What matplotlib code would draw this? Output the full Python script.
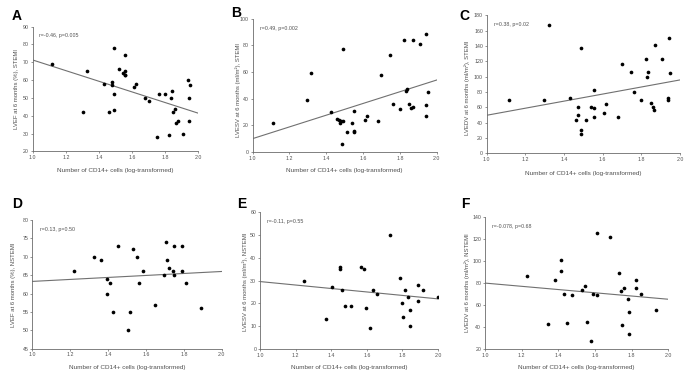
import matplotlib
matplotlib.use("Agg")
import matplotlib.pyplot as plt
import numpy as np

plt.rcParams['font.family'] = ['Liberation Sans', 'DejaVu Sans']

# ---------------- data ----------------
# Panel A: LVEF, STEMI
A_x = [1.119, 1.306, 1.326, 1.433, 1.463, 1.481, 1.481, 1.493, 1.493, 1.493, 1.519, 1.547, 1.555,
       1.559, 1.559, 1.559, 1.614, 1.624, 1.680, 1.700, 1.748, 1.763, 1.801, 1.833, 1.839, 1.825,
       1.849, 1.861, 1.867, 1.875, 1.905, 1.936, 1.944, 1.944, 1.952]
A_y = [69, 42, 65, 58, 42, 59, 57, 78, 52, 43, 66, 64, 63,
       74, 65, 63, 56, 58, 50, 48, 28, 52, 52, 50, 54, 29,
       42, 44, 36, 37, 30, 60, 50, 37, 57]
A_fit = [71.3, 41.4]

# Panel B: LVESV, STEMI
B_x = [1.110, 1.298, 1.320, 1.428, 1.461, 1.470, 1.475, 1.483, 1.490, 1.490, 1.488, 1.515, 1.542,
       1.553, 1.553, 1.553, 1.611, 1.622, 1.679, 1.698, 1.747, 1.761, 1.799, 1.824, 1.832, 1.837,
       1.851, 1.862, 1.869, 1.873, 1.909, 1.940, 1.944, 1.944, 1.955]
B_y = [22, 39, 59, 30, 25, 24, 22, 23, 77, 23, 6, 15, 22,
       31, 16, 15, 24, 27, 23, 58, 73, 36, 32, 84, 46, 47.5,
       36, 33, 34, 84, 81, 27, 88.5, 35, 45]
B_fit = [10.0, 54.0]

# Panel C: LVEDV, STEMI
C_x = [1.114, 1.298, 1.321, 1.429, 1.460, 1.474, 1.474, 1.488, 1.488, 1.488, 1.516, 1.541, 1.553,
       1.553, 1.553, 1.609, 1.619, 1.678, 1.698, 1.747, 1.760, 1.797, 1.822, 1.829, 1.836, 1.848,
       1.859, 1.866, 1.872, 1.905, 1.936, 1.940, 1.943, 1.950]
C_y = [69, 69, 168, 72, 44, 60, 50, 138, 30, 25, 44, 61, 59,
       83, 48, 53, 64, 48, 116, 106, 80, 70, 123, 99, 106, 66,
       61, 56, 141, 123, 70, 72, 150, 105]
C_fit = [49.6, 95.7]

# Panel D: LVEF, NSTEMI
D_x = [1.220, 1.326, 1.363, 1.394, 1.394, 1.412, 1.428, 1.454, 1.504, 1.518, 1.530, 1.553, 1.565,
       1.586, 1.650, 1.697, 1.706, 1.713, 1.722, 1.741, 1.748, 1.748, 1.789, 1.789, 1.812, 1.891]
D_y = [66, 70, 69, 64, 60, 63, 55, 73, 50, 55, 72, 70, 63,
       66, 57, 65, 74, 69, 67, 66, 65, 73, 73, 66, 63, 56]
D_fit = [63.3, 66.0]

# Panel E: LVESV, NSTEMI
E_x = [1.248, 1.368, 1.407, 1.447, 1.447, 1.462, 1.480, 1.512, 1.568, 1.583, 1.597, 1.619, 1.634,
       1.659, 1.730, 1.788, 1.795, 1.803, 1.812, 1.833, 1.842, 1.842, 1.886, 1.886, 1.914, 2.000]
E_y = [30, 13, 27, 36, 35, 26, 19, 19, 36, 35, 18, 9, 26,
       24, 50, 31, 20, 14, 26, 23, 17, 10, 28, 21, 26, 23]
E_fit = [29.6, 22.0]

# Panel F: LVEDV, NSTEMI
F_x = [1.231, 1.342, 1.380, 1.415, 1.415, 1.431, 1.445, 1.476, 1.529, 1.544, 1.556, 1.578, 1.591,
       1.611, 1.611, 1.680, 1.731, 1.742, 1.747, 1.756, 1.778, 1.785, 1.785, 1.825, 1.825, 1.849, 1.935]
F_y = [87, 43, 83, 101, 91, 70, 44, 69, 74, 78, 45, 28, 70,
       126, 69, 122, 89, 73, 42, 76, 66, 54, 34, 83, 76, 70, 56]
F_fit = [80.2, 65.5]

letters = ['A', 'B', 'C', 'D', 'E', 'F']
ylabels = ['LVEF at 6 months (%), STEMI',
           'LVESV at 6 months (ml/m\u00b2), STEMI',
           'LVEDV at 6 months (ml/m\u00b2), STEMI',
           'LVEF at 6 months (%), NSTEMI',
           'LVESV at 6 months (ml/m\u00b2), NSTEMI',
           'LVEDV at 6 months (ml/m\u00b2), NSTEMI']
stats = ['r=-0.46, p=0.005', 'r=0.49, p=0.002', 'r=0.38, p=0.02',
         'r=0.13, p=0.50', 'r=-0.11, p=0.55', 'r=-0.078, p=0.68']
xlabel = 'Number of CD14+ cells (log-transformed)'
x_ticks = [1.0, 1.2, 1.4, 1.6, 1.8, 2.0]
y_ranges = [(20, 90, 10), (0, 100, 20), (0, 180, 20), (45, 80, 5), (0, 60, 10), (20, 140, 20)]

xs = [A_x, B_x, C_x, D_x, E_x, F_x]
ys = [A_y, B_y, C_y, D_y, E_y, F_y]
fits = [A_fit, B_fit, C_fit, D_fit, E_fit, F_fit]

# ---------------- layout (pixel boxes: left, right, top, bottom) ----------------
W, H = 694, 378
boxes = [(32.7, 198.3, 26.7, 151.3),
         (252.5, 436.7, 18.7, 152.0),
         (486.7, 680.0, 15.3, 153.3),
         (32.3, 221.7, 220.0, 348.7),
         (260.0, 438.0, 212.3, 349.0),
         (485.0, 668.3, 217.3, 349.3)]
letter_pos = [(12, 20), (231, 17), (459, 20), (12, 208), (237, 208), (461, 208)]
ylabel_x = [17, 238, 467, 14, 245, 467]
ylabel_cy = [89, 90, 88, 285, 282, 283]
xlabel_y = [171, 171, 174, 367, 367, 367]

fig = plt.figure(figsize=(W / 100, H / 100), dpi=100)
fig.patch.set_facecolor('white')

gray = '#6b6b6b'
txt = '#505050'
fs = 3.8

for i in range(6):
    l, r, t, b = boxes[i]
    ax = fig.add_axes([l / W, 1 - b / H, (r - l) / W, (b - t) / H])
    ax.scatter(xs[i], ys[i], s=7, color='black', zorder=3, linewidths=0)
    ax.plot([1.0, 2.0], fits[i], color='#707070', lw=0.8, zorder=2)
    y0, y1, st = y_ranges[i]
    ax.set_xlim(1.0, 2.0)
    ax.set_ylim(y0, y1)
    ax.set_xticks(x_ticks)
    ax.set_xticklabels([f'{v:.1f}' for v in x_ticks])
    yt = list(range(y0, y1 + 1, st))
    ax.set_yticks(yt)
    ax.set_yticklabels([str(v) for v in yt])
    for s in ['top', 'right']:
        ax.spines[s].set_visible(False)
    for s in ['left', 'bottom']:
        ax.spines[s].set_color(gray)
        ax.spines[s].set_linewidth(0.6)
    ax.tick_params(axis='both', colors=gray, labelcolor=txt, labelsize=fs,
                   length=1.5, width=0.5, pad=1.2)
    ax.set_facecolor('none')
    ax.text(0.04, 0.93, stats[i], transform=ax.transAxes, fontsize=fs,
            color=txt, va='center', ha='left')
    fig.text((l + r) / 2 / W, 1 - xlabel_y[i] / H, xlabel, fontsize=fs + 0.8,
             color=txt, ha='center', va='center')
    fig.text(ylabel_x[i] / W, 1 - ylabel_cy[i] / H, ylabels[i], fontsize=fs + 0.5,
             color=txt, ha='center', va='center', rotation=90)
    fig.text(letter_pos[i][0] / W, 1 - letter_pos[i][1] / H, letters[i], fontsize=10,
             fontweight='bold', color='black', ha='left', va='baseline')

fig.savefig('out.png', dpi=100, facecolor='white')
